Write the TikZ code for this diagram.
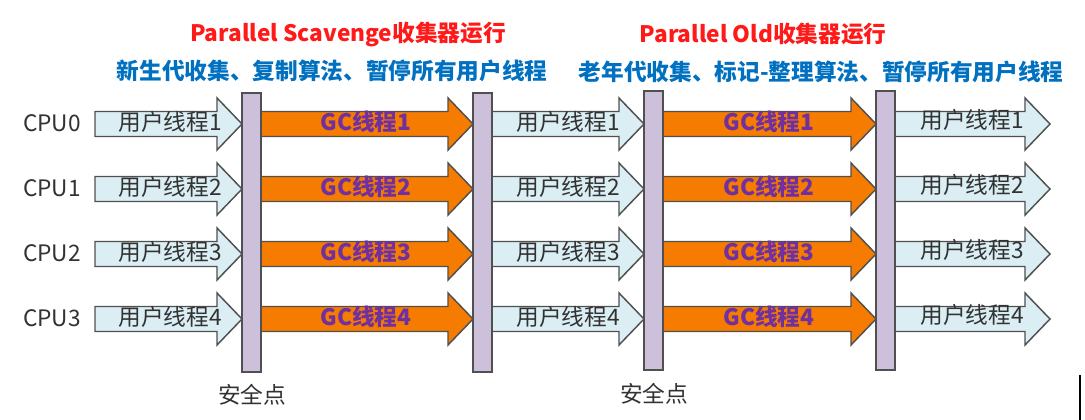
\documentclass[tikz,border=0pt]{standalone}
\usepackage{fontspec}
\setmainfont{Noto Sans CJK SC}
\definecolor{userfill}{RGB}{218,238,243}
\definecolor{gcfill}{RGB}{245,124,0}
\definecolor{barfill}{RGB}{204,192,218}
\definecolor{edgegray}{RGB}{80,80,80}
\definecolor{usertxt}{RGB}{50,50,50}
\definecolor{gctxt}{RGB}{112,48,160}
\definecolor{titlered}{RGB}{255,25,25}
\definecolor{subblue}{RGB}{0,112,192}
\tikzset{
  userarrow/.style={fill=userfill, draw=edgegray, line width=1.1pt, line join=miter},
  gcarrow/.style={fill=gcfill, draw=edgegray, line width=1.1pt, line join=miter},
  safebar/.style={fill=barfill, draw=edgegray, line width=1.1pt},
  usertext/.style={text=usertxt, font=\fontsize{17}{19}\selectfont, inner sep=0pt},
  gctext/.style={text=gctxt, font=\bfseries\fontsize{17}{19}\selectfont, inner sep=0pt},
  cputext/.style={text=usertxt, font=\fontsize{17}{19}\selectfont, inner sep=0pt},
  safetext/.style={text=usertxt, font=\fontsize{17}{19}\selectfont, inner sep=0pt},
  titletext/.style={text=titlered, font=\bfseries\fontsize{17}{19}\selectfont, inner sep=0pt},
  subtext/.style={text=subblue, font=\bfseries\fontsize{17}{19}\selectfont, inner sep=0pt},
}
\newcommand{\ThreadArrow}[4]{%
  \draw[#1] (#2,#4-12.5) -- (#3-25,#4-12.5) -- (#3-25,#4-26) -- (#3,#4)
    -- (#3-25,#4+26) -- (#3-25,#4+12.5) -- (#2,#4+12.5) -- cycle;}
\begin{document}
\begin{tikzpicture}[x=0.75pt,y=-0.75pt]
\useasboundingbox[fill=white] (0,0) rectangle (1085,420);
% titles
\node[titletext] (t1) at (348,34) {Parallel Scavenge收集器运行};
\node[subtext] (s1) at (332,71) {新生代收集、复制算法、暂停所有用户线程};
\node[titletext] (t2) at (763,34) {Parallel Old收集器运行};
\node[subtext] (s2) at (821,72) {老年代收集、标记-整理算法、暂停所有用户线程};
% rows
\foreach \i/\y in {0/124,1/189,2/254,3/319}{
  \pgfmathtruncatemacro{\n}{\i+1}
  \node[cputext] (cpu\i) at (52,\y-1) {CPU\i};
  \ThreadArrow{userarrow}{95}{242}{\y}
  \node[usertext] (ua\i) at (170,\y-2) {用户线程\n};
  \ThreadArrow{gcarrow}{261}{473}{\y}
  \node[gctext] (ga\i) at (366,\y-2) {GC线程\n};
  \ThreadArrow{userarrow}{492}{644}{\y}
  \node[usertext] (ub\i) at (568,\y-2) {用户线程\n};
  \ThreadArrow{gcarrow}{663}{876}{\y}
  \node[gctext] (gb\i) at (769,\y-2) {GC线程\n};
  \ThreadArrow{userarrow}{895}{1050}{\y}
  \node[usertext] (uc\i) at (972,\y-4) {用户线程\n};
}
% safepoint bars
\draw[safebar] (242,93) rectangle (261,372);
\draw[safebar] (473,93) rectangle (492,372);
\draw[safebar] (644,91) rectangle (663,370);
\draw[safebar] (876,91) rectangle (895,370);
\node[safetext] (sp1) at (252,395) {安全点};
\node[safetext] (sp2) at (654,394) {安全点};
% cursor mark
\coordinate (cur1) at (1080,375);
\coordinate (cur2) at (1080,420);
\draw[line width=1.5pt, black] (cur1) -- (cur2);
\end{tikzpicture}
\end{document}
